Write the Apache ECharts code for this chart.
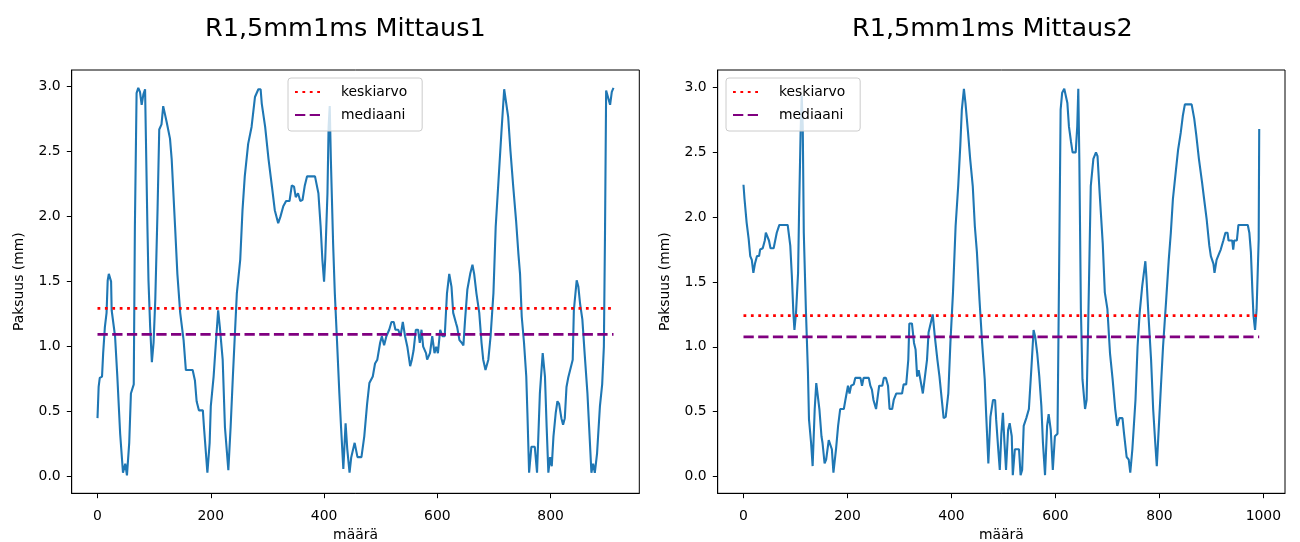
<!DOCTYPE html>
<html>
<head>
<meta charset="utf-8">
<script src="https://cdn.jsdelivr.net/npm/echarts@6.0.0/dist/echarts.min.js"></script>
<style>
html,body{margin:0;padding:0;background:#fff;}
#chart{width:1300px;height:542px;}
</style>
</head>
<body>
<div id="chart"></div>
<script>
// ---- Data ----
const titles = ['R1,5mm1ms Mittaus1', 'R1,5mm1ms Mittaus2'];
const xLabel = 'määrä';
const yLabel = 'Paksuus (mm)';
const legendNames = ['keskiarvo', 'mediaani'];
const xTicks1 = [0, 200, 400, 600, 800];
const xTicks2 = [0, 200, 400, 600, 800, 1000];
const yTicks = [0, 0.5, 1.0, 1.5, 2.0, 2.5, 3.0];

const m1X = [0,2,4,8,10,13,16,18,20,24,25,31,35,40,45,49,52,56,59,64,66,69,72,75,78,81,84,86,88,90,93,96,99,102,106,109,113,116,119,122,128,131,137,141,146,152,156,168,172,175,179,186,188,194,198,200,205,209,213,216,221,225,231,235,239,246,252,256,260,266,272,278,284,288,290,296,302,308,313,319,323,328,333,339,343,347,350,354,358,362,366,370,384,390,394,397,400,402,406,408,410,412,416,419,423,427,430,434,438,441,445,448,454,459,466,471,476,480,486,490,494,499,502,506,510,515,519,523,526,531,535,539,543,547,552,555,558,562,566,569,572,575,580,582,587,591,595,598,601,605,609,613,617,621,623,625,628,633,635,639,643,646,649,653,658,662,665,669,674,678,681,685,690,694,699,703,708,713,718,721,725,729,734,739,743,746,749,753,757,759,762,766,772,776,781,786,788,790,793,796,799,802,805,809,812,815,819,822,825,828,831,834,839,841,846,849,852,856,860,865,868,872,875,878,882,887,891,894,896,898,901,905,908,911];
const m1Y = [0.45,0.69,0.76,0.77,0.95,1.15,1.26,1.51,1.56,1.50,1.28,1.08,0.77,0.33,0.03,0.10,0.01,0.26,0.64,0.71,1.92,2.95,2.99,2.96,2.86,2.94,2.98,2.98,1.95,1.51,1.15,0.88,1.03,1.36,2.05,2.67,2.71,2.85,2.86,2.73,2.60,2.44,1.92,1.56,1.26,1.05,0.82,0.82,0.74,0.58,0.51,0.51,0.38,0.03,0.26,0.54,0.77,1.03,1.28,1.15,0.90,0.38,0.05,0.38,0.77,1.41,1.67,2.05,2.31,2.56,2.69,2.92,2.98,2.98,2.87,2.69,2.44,2.23,2.05,1.95,2.00,2.08,2.12,2.12,2.24,2.23,2.15,2.18,2.12,2.13,2.24,2.31,2.31,2.18,1.92,1.67,1.50,1.67,2.18,2.69,2.85,2.44,1.79,1.41,1.03,0.64,0.38,0.06,0.41,0.21,0.03,0.15,0.26,0.15,0.15,0.31,0.56,0.72,0.77,0.87,0.90,1.03,1.08,1.01,1.08,1.13,1.19,1.19,1.13,1.13,1.08,1.19,1.08,1.00,0.85,0.90,0.97,1.13,1.13,1.03,1.13,1.00,0.95,0.90,0.95,1.08,0.95,1.00,0.95,1.13,1.08,1.08,1.41,1.56,1.56,1.46,1.26,1.18,1.15,1.05,1.03,1.01,1.21,1.44,1.56,1.63,1.56,1.41,1.26,1.03,0.90,0.82,0.90,1.08,1.41,1.92,2.28,2.64,2.98,2.98,2.77,2.51,2.23,1.97,1.72,1.56,1.23,1.03,0.77,0.49,0.03,0.23,0.23,0.03,0.64,0.95,0.95,0.77,0.38,0.03,0.15,0.08,0.31,0.49,0.58,0.56,0.45,0.40,0.45,0.69,0.76,0.77,0.90,1.28,1.51,1.46,1.33,1.21,0.95,0.64,0.38,0.03,0.10,0.03,0.18,0.54,0.71,1.00,1.87,2.97,2.97,2.86,2.96,2.99];

const m2X = [0,2,6,10,13,16,19,22,26,30,32,37,41,43,46,49,52,58,61,64,69,85,90,93,96,98,101,105,107,110,112,114,116,120,124,126,130,133,137,140,143,146,150,152,156,159,164,167,170,173,178,182,186,193,196,201,204,207,212,215,225,228,231,241,244,247,250,255,259,261,267,270,274,278,281,286,289,294,299,305,308,313,317,319,324,328,331,334,337,340,345,349,353,356,360,364,368,373,377,382,385,389,394,398,403,408,413,417,420,424,427,432,436,441,445,449,454,459,464,467,471,475,480,484,486,490,493,496,499,502,505,509,512,516,518,522,530,533,536,539,544,549,554,558,561,565,569,573,576,580,584,587,591,595,599,604,607,610,613,617,620,623,626,630,633,639,642,644,646,649,652,657,660,663,668,673,678,681,685,691,695,700,705,710,715,719,723,729,732,737,741,744,748,754,758,762,767,773,775,779,784,788,792,795,799,803,807,813,818,822,826,832,836,841,845,849,862,867,871,876,882,886,891,896,899,904,906,910,915,918,923,927,931,933,940,942,944,949,952,970,973,976,979,981,984,987,991,992];
const m2Y = [2.25,2.14,1.96,1.83,1.70,1.67,1.57,1.64,1.70,1.70,1.75,1.76,1.82,1.88,1.88,1.82,1.76,1.76,1.82,1.88,1.94,1.94,1.78,1.55,1.26,1.13,1.26,1.57,2.06,2.68,2.94,2.70,1.88,1.29,0.80,0.44,0.26,0.08,0.52,0.72,0.72,0.52,0.31,0.26,0.10,0.13,0.28,0.28,0.21,0.03,0.21,0.39,0.52,0.52,0.59,0.70,0.64,0.70,0.71,0.76,0.76,0.70,0.76,0.76,0.70,0.67,0.59,0.52,0.64,0.70,0.70,0.76,0.76,0.70,0.52,0.52,0.59,0.64,0.64,0.64,0.71,0.71,0.90,1.18,1.18,1.03,0.98,0.77,0.82,0.82,0.64,0.77,0.90,1.11,1.18,1.25,1.08,0.90,0.77,0.57,0.45,0.46,0.64,1.03,1.42,1.93,2.24,2.55,2.83,2.99,2.88,2.65,2.45,2.24,1.93,1.73,1.36,1.03,0.75,0.46,0.10,0.46,0.59,0.59,0.44,0.21,0.05,0.33,0.49,0.26,0.05,0.36,0.41,0.31,0.01,0.21,0.21,0.01,0.05,0.39,0.45,0.52,0.85,1.13,1.08,0.95,0.77,0.54,0.26,0.01,0.39,0.48,0.36,0.05,0.31,0.33,1.55,2.83,2.96,2.99,2.99,2.88,2.70,2.58,2.50,2.50,2.70,2.99,2.45,1.29,0.75,0.52,0.59,1.16,2.24,2.45,2.50,2.47,2.19,1.80,1.42,1.29,0.95,0.75,0.52,0.39,0.45,0.45,0.33,0.15,0.13,0.03,0.21,0.59,1.00,1.26,1.47,1.66,1.54,1.24,0.90,0.52,0.26,0.08,0.39,0.70,1.00,1.36,1.67,1.88,2.14,2.37,2.52,2.65,2.78,2.87,2.87,2.76,2.63,2.45,2.27,2.14,1.98,1.78,1.70,1.64,1.57,1.67,1.72,1.75,1.82,1.88,1.88,1.82,1.82,1.75,1.82,1.82,1.94,1.94,1.88,1.73,1.42,1.24,1.13,1.29,1.83,2.68];

const mean1 = 1.295, median1 = 1.095;
const mean2 = 1.24, median2 = 1.077;

// ---- Chart ----
const FF = 'DejaVu Sans';
const zip = (xs, ys) => xs.map((x, i) => [x, ys[i]]);

function xAxis(gi, min, max, ticks) {
  return {
    type: 'value', gridIndex: gi, min: min, max: max,
    name: xLabel, nameLocation: 'middle', nameGap: 35,
    nameTextStyle: {fontFamily: FF, fontSize: 13.9, color: '#000'},
    axisLine: {show: true, onZero: false, lineStyle: {color: '#000', width: 1}},
    axisTick: {show: true, inside: false, length: 4.9, lineStyle: {color: '#000', width: 1}, customValues: ticks},
    axisLabel: {show: true, margin: 16, fontFamily: FF, fontSize: 13.9, color: '#000', customValues: ticks, formatter: v => String(v)},
    splitLine: {show: false}
  };
}
function yAxis(gi, min, max) {
  return {
    type: 'value', gridIndex: gi, min: min, max: max,
    name: yLabel, nameLocation: 'middle', nameGap: 45, nameRotate: 90,
    nameTextStyle: {fontFamily: FF, fontSize: 13.9, color: '#000'},
    axisLine: {show: true, onZero: false, lineStyle: {color: '#000', width: 1}},
    axisTick: {show: true, inside: false, length: 4.9, lineStyle: {color: '#000', width: 1}, customValues: yTicks},
    axisLabel: {show: true, margin: 11, fontFamily: FF, fontSize: 13.9, color: '#000', customValues: yTicks, formatter: v => v.toFixed(1)},
    splitLine: {show: false}
  };
}
function legend(left, top) {
  return {
    data: legendNames, orient: 'vertical', left: left, top: top,
    itemWidth: 29, itemHeight: 14, itemGap: 9,
    padding: [7, 15, 9, 6],
    backgroundColor: 'rgba(255,255,255,0.8)', borderColor: '#cccccc', borderWidth: 1, borderRadius: 3,
    itemStyle: {opacity: 0},
    textStyle: {fontFamily: FF, fontSize: 13.9, color: '#000', padding: [0, 0, 0, 12]},
    selectedMode: false
  };
}
function seriesFor(gi, xs, ys, mean, median) {
  const x0 = xs[0], x1 = xs[xs.length - 1];
  return [
    {type: 'line', name: 'data' + gi, xAxisIndex: gi, yAxisIndex: gi, data: zip(xs, ys),
     symbol: 'none', showSymbol: false, lineStyle: {color: '#1f77b4', width: 2.1}, itemStyle: {color: '#1f77b4'}, z: 2},
    {type: 'line', name: legendNames[0], xAxisIndex: gi, yAxisIndex: gi, data: [[x0, mean], [x1, mean]],
     symbol: 'none', lineStyle: {color: '#ff0000', width: 2.8, type: [2.8, 4.6], cap: 'butt'}, itemStyle: {color: '#ff0000'}, z: 3},
    {type: 'line', name: legendNames[1], xAxisIndex: gi, yAxisIndex: gi, data: [[x0, median], [x1, median]],
     symbol: 'none', lineStyle: {color: '#800080', width: 2.8, type: [10.3, 4.4], cap: 'butt'}, itemStyle: {color: '#800080'}, z: 3}
  ];
}

const chart = echarts.init(document.getElementById('chart'), null, {renderer: 'canvas'});
chart.setOption({
  animation: false,
  backgroundColor: '#ffffff',
  title: [
    {text: titles[0], left: 200, top: 11, textStyle: {fontFamily: FF, fontSize: 25.5, fontWeight: 'normal', color: '#000'}},
    {text: titles[1], left: 847, top: 11, textStyle: {fontFamily: FF, fontSize: 25.5, fontWeight: 'normal', color: '#000'}}
  ],
  legend: [legend(288, 78), legend(726, 78)],
  grid: [
    {left: 71.7, top: 70, width: 567.6, height: 423.3, show: true, borderColor: '#000', borderWidth: 1, backgroundColor: 'transparent', containLabel: false, outerBoundsMode: 'none'},
    {left: 717.7, top: 70, width: 567.3, height: 423.3, show: true, borderColor: '#000', borderWidth: 1, backgroundColor: 'transparent', containLabel: false, outerBoundsMode: 'none'}
  ],
  xAxis: [xAxis(0, -45.55, 956.55, xTicks1), xAxis(1, -49.6, 1041.6, xTicks2)],
  yAxis: [yAxis(0, -0.128, 3.128), yAxis(1, -0.13, 3.135)],
  series: [].concat(seriesFor(0, m1X, m1Y, mean1, median1), seriesFor(1, m2X, m2Y, mean2, median2))
});
</script>
</body>
</html>
